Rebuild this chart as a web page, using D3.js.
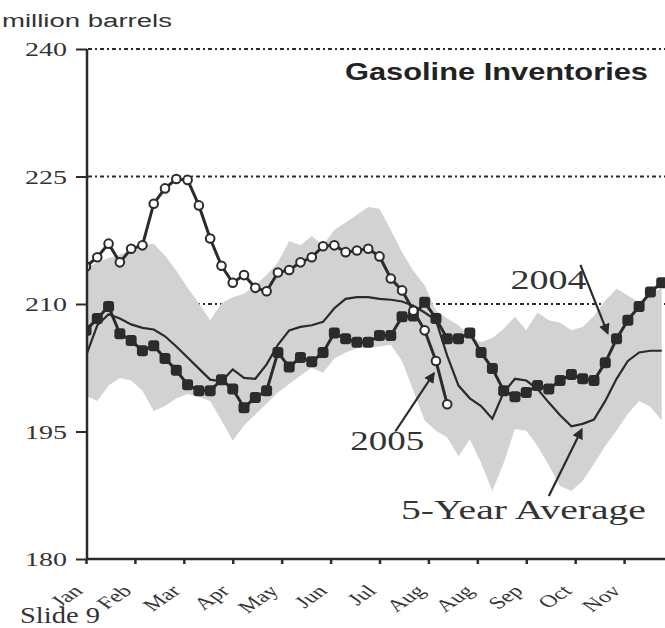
<!DOCTYPE html>
<html>
<head>
<meta charset="utf-8">
<script src="https://cdn.jsdelivr.net/npm/d3@7"></script>
<style>
  body { margin: 0; background: #fff; }
  svg { display: block; }
</style>
</head>
<body>
<div id="chart"></div>
<script>
// weekly values, million barrels
const monthLabels = ["Jan", "Feb", "Mar", "Apr", "May", "Jun", "Jul", "Aug", "Aug", "Sep", "Oct", "Nov"];
const yTicks = [180, 195, 210, 225, 240];
const gridValues = [210, 225, 240];

const inv2005 = [214.4, 215.5, 217.1, 214.9, 216.5, 216.9, 221.8, 223.6, 224.7, 224.6, 221.6, 217.7, 214.5,
  212.5, 213.4, 211.9, 211.5, 213.7, 214.0, 214.9, 215.5, 216.8, 216.9, 216.1, 216.3, 216.5, 215.6, 213.0,
  211.6, 209.2, 206.9, 203.3, 198.2];

const inv2004 = [206.9, 208.3, 209.7, 206.5, 205.7, 204.5, 205.1, 203.6, 202.2, 200.5, 199.8, 199.8, 201.1,
  200.0, 197.8, 199.0, 199.8, 204.3, 202.6, 203.7, 203.2, 204.3, 206.6, 205.9, 205.5, 205.5, 206.3, 206.3,
  208.5, 208.6, 210.2, 208.3, 205.9, 205.9, 206.6, 204.3, 202.4, 199.8, 199.1, 199.6, 200.4, 200.0, 201.0,
  201.7, 201.2, 201.0, 203.1, 205.9, 208.1, 209.7, 211.4, 212.5];

const avg5 = [203.9, 207.5, 208.8, 208.3, 207.6, 207.2, 207.0, 206.2, 205.0, 203.7, 202.4, 201.1, 200.9,
  202.3, 201.3, 201.2, 202.9, 205.2, 206.9, 207.3, 207.5, 207.9, 209.5, 210.6, 210.8, 210.8, 210.6, 210.5,
  210.3, 209.8, 209.0, 208.1, 203.9, 200.4, 198.9, 198.0, 196.5, 199.6, 201.2, 201.0, 200.0, 198.4, 196.9,
  195.6, 195.9, 196.4, 198.6, 201.2, 203.3, 204.3, 204.5, 204.5];

const rangeHigh = [214.2, 214.9, 215.4, 215.8, 216.3, 216.9, 217.1, 215.7, 213.9, 211.9, 210.1, 208.1, 210.1,
  210.8, 211.2, 212.2, 213.4, 214.9, 217.4, 216.9, 218.0, 216.9, 218.7, 219.6, 220.5, 221.4, 221.2, 218.7,
  216.1, 213.9, 212.2, 209.2, 208.3, 207.5, 206.2, 205.5, 206.0, 207.1, 208.5, 206.9, 209.0, 208.1, 207.8,
  206.9, 207.3, 208.6, 210.4, 211.8, 211.0, 210.2, 211.4, 211.8];

const rangeLow = [199.2, 198.6, 200.4, 201.3, 201.0, 199.8, 197.4, 198.0, 198.9, 199.4, 199.1, 198.6, 196.3,
  193.9, 195.7, 197.0, 198.3, 199.6, 200.6, 201.6, 202.5, 201.9, 203.6, 204.3, 204.8, 204.9, 205.0, 205.2,
  203.3, 199.8, 196.3, 195.1, 194.3, 192.1, 194.1, 191.3, 188.0, 191.3, 195.3, 195.1, 193.3, 191.0, 188.6,
  188.0, 189.2, 191.2, 193.3, 195.1, 197.1, 198.6, 197.9, 196.3];

// label text, anchor (week, value), arrow from/to (week, value)
const notes = [
  { text: "2004", week: 37.6, value: 211.8, len: 76, from: [43.8, 214.6], to: [46.2, 206.6] },
  { text: "2005", week: 23.4, value: 192.8, len: 74, from: [27.4, 195.0], to: [30.8, 201.8] },
  { text: "5-Year Average", week: 27.9, value: 184.7, len: 245, from: [41.0, 187.4], to: [43.9, 195.2] }
];

const width = 665, height = 628;
const svg = d3.select("#chart").append("svg")
  .attr("width", width)
  .attr("height", height)
  .style("font-family", "'Liberation Serif', 'Times New Roman', serif");

const x = d3.scaleLinear().domain([0, 52]).range([86, 673]);
const y = d3.scaleLinear().domain([180, 240]).range([559, 49]);
const ink = "#2b2b2b";

svg.append("defs").append("clipPath").attr("id", "plot")
  .append("rect").attr("x", 87).attr("y", 40).attr("width", 600).attr("height", 520);

// dotted gridlines (under the band)
svg.selectAll("line.grid").data(gridValues).join("line")
  .attr("class", "grid")
  .attr("x1", 88).attr("x2", width)
  .attr("y1", d => y(d)).attr("y2", d => y(d))
  .attr("stroke", ink)
  .attr("stroke-width", 1.8)
  .attr("stroke-dasharray", "4,3,2,3");

const plot = svg.append("g").attr("clip-path", "url(#plot)");

// 5-year range band
const band = d3.area()
  .x((d, i) => x(i))
  .y0((d, i) => y(rangeLow[i]))
  .y1(d => y(d));
plot.append("path")
  .datum(rangeHigh)
  .attr("d", band)
  .attr("fill", "#d2d2d2");

const line = d3.line().x((d, i) => x(i)).y(d => y(d));

plot.append("path").datum(avg5)
  .attr("d", line).attr("fill", "none")
  .attr("stroke", ink).attr("stroke-width", 2.2);

plot.append("path").datum(inv2004)
  .attr("d", line).attr("fill", "none")
  .attr("stroke", ink).attr("stroke-width", 3);
plot.selectAll("rect.m04").data(inv2004).join("rect")
  .attr("class", "m04")
  .attr("x", (d, i) => x(i) - 5.5).attr("y", d => y(d) - 5.5)
  .attr("width", 11).attr("height", 11).attr("rx", 3)
  .attr("fill", ink);

plot.append("path").datum(inv2005)
  .attr("d", line).attr("fill", "none")
  .attr("stroke", ink).attr("stroke-width", 3);
plot.selectAll("circle.m05").data(inv2005).join("circle")
  .attr("class", "m05")
  .attr("cx", (d, i) => x(i)).attr("cy", d => y(d))
  .attr("r", 4.3)
  .attr("fill", "#fff").attr("stroke", ink).attr("stroke-width", 2);

// axes
const yAxis = svg.append("g").attr("transform", "translate(87,0)")
  .call(d3.axisLeft(y).tickValues(yTicks).tickSize(11).tickFormat(d3.format("d")));
yAxis.select(".domain").attr("stroke", ink).attr("stroke-width", 2.5).attr("d", "M0,49V560");
yAxis.selectAll(".tick line").attr("stroke", ink).attr("stroke-width", 2);
yAxis.selectAll(".tick text")
  .attr("x", -20).attr("dy", "0.35em")
  .attr("font-size", 19).attr("fill", "#333")
  .attr("font-family", "'Liberation Serif', serif")
  .attr("textLength", 42).attr("lengthAdjust", "spacingAndGlyphs");

const monthTicks = monthLabels.map((m, i) => i * 52 / 12);
const xAxis = svg.append("g").attr("transform", "translate(0,559)")
  .call(d3.axisBottom(x).tickValues(monthTicks).tickSize(5).tickFormat(""));
xAxis.select(".domain").attr("stroke", ink).attr("stroke-width", 2.5).attr("d", "M87,0H665");
xAxis.selectAll(".tick line").attr("stroke", ink).attr("stroke-width", 2.5);

svg.selectAll("text.month").data(monthLabels).join("text")
  .attr("class", "month")
  .attr("text-anchor", "end")
  .attr("font-size", 17)
  .attr("fill", "#333")
  .attr("transform", (d, i) => `translate(${x(monthTicks[i]) - 2},${592}) scale(1.45,1) rotate(-45)`)
  .text(d => d);

// annotations
svg.append("defs").append("marker")
  .attr("id", "head").attr("viewBox", "0 0 10 10")
  .attr("refX", 8).attr("refY", 5)
  .attr("markerWidth", 5).attr("markerHeight", 5)
  .attr("orient", "auto")
  .append("path").attr("d", "M0,0L10,5L0,10Z").attr("fill", ink);

notes.forEach(n => {
  svg.append("line")
    .attr("x1", x(n.from[0])).attr("y1", y(n.from[1]))
    .attr("x2", x(n.to[0])).attr("y2", y(n.to[1]))
    .attr("stroke", ink).attr("stroke-width", 2.2)
    .attr("marker-end", "url(#head)");
  svg.append("text")
    .attr("x", x(n.week)).attr("y", y(n.value))
    .attr("font-size", 28).attr("fill", "#333")
    .attr("textLength", n.len).attr("lengthAdjust", "spacingAndGlyphs")
    .text(n.text);
});

// titles
svg.append("text")
  .attr("x", 345).attr("y", 80)
  .attr("font-family", "'Liberation Sans', Arial, sans-serif")
  .attr("font-weight", "bold").attr("font-size", 24).attr("fill", "#222")
  .attr("textLength", 303).attr("lengthAdjust", "spacingAndGlyphs")
  .text("Gasoline Inventories");

svg.append("text")
  .attr("x", 2).attr("y", 27)
  .attr("font-family", "'Liberation Sans', Arial, sans-serif")
  .attr("font-size", 18).attr("fill", "#333")
  .attr("textLength", 170).attr("lengthAdjust", "spacingAndGlyphs")
  .text("million barrels");

svg.append("text")
  .attr("x", 20).attr("y", 623)
  .attr("font-size", 24).attr("fill", "#333")
  .attr("textLength", 80).attr("lengthAdjust", "spacingAndGlyphs")
  .text("Slide 9");
</script>
</body>
</html>
